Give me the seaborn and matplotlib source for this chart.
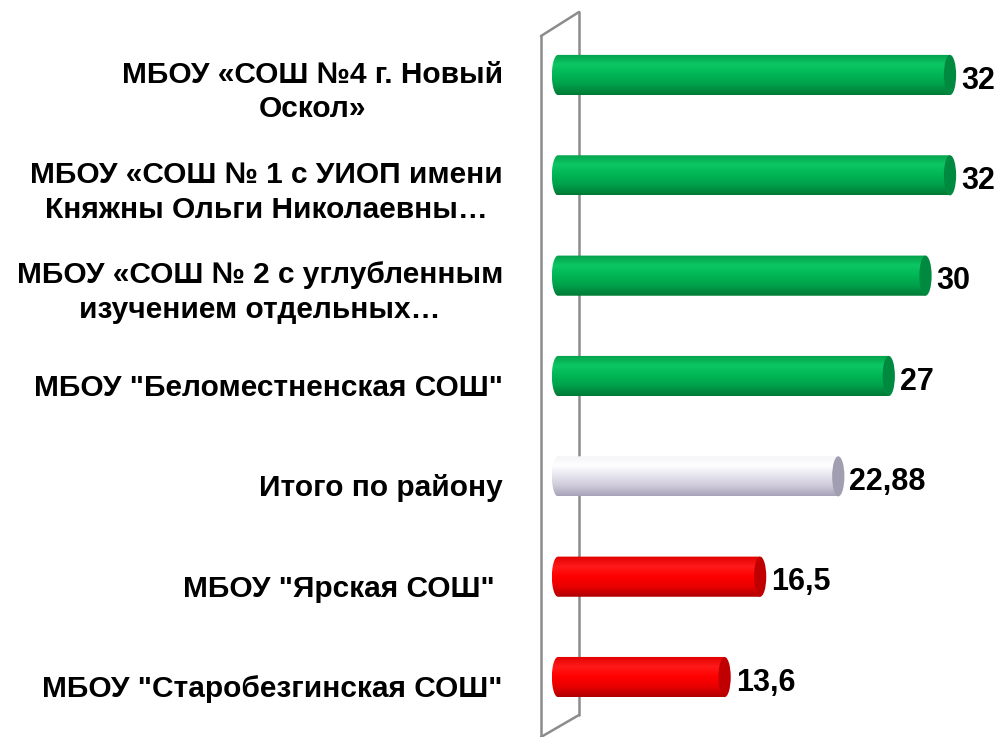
import numpy as np
import pandas as pd
import matplotlib
matplotlib.use("Agg")
import matplotlib.pyplot as plt
import seaborn as sns
from matplotlib.patches import Ellipse, PathPatch
from matplotlib.path import Path
from matplotlib.lines import Line2D
import matplotlib.transforms as mtransforms

categories = [
    "МБОУ «СОШ №4 г. Новый\nОскол»",
    "МБОУ «СОШ № 1 с УИОП имени\nКняжны Ольги Николаевны…",
    "МБОУ «СОШ № 2 с углубленным\nизучением отдельных…",
    "МБОУ \"Беломестненская СОШ\"",
    "Итого по району",
    "МБОУ \"Ярская СОШ\" ",
    "МБОУ \"Старобезгинская СОШ\"",
]
values = [32, 32, 30, 27, 22.88, 16.5, 13.6]
value_labels = ["32", "32", "30", "27", "22,88", "16,5", "13,6"]
groups = ["high", "high", "high", "high", "total", "low", "low"]

palette = {"high": "#00B050", "total": "#E2E0EA", "low": "#FF0000"}
gradients = {
    "high": ["#05A04C", "#0CC763", "#00B655", "#00A04A", "#007A36"],
    "total": ["#F4F4F8", "#FFFFFF", "#E6E4EE", "#CFCBDB", "#A8A3B8"],
    "low": ["#E00000", "#FF1A1A", "#FF0000", "#E80000", "#B00000"],
}
caps = {"high": "#008A40", "total": "#A29EB2", "low": "#C00000"}

sns.set_theme(style="white")
plt.rcParams["font.family"] = ["Liberation Sans", "DejaVu Sans"]

W, H = 1000, 737
fig = plt.figure(figsize=(W / 100, H / 100), dpi=100)
a = 0.5  # half-width of end ellipse in data units
x0_px, px_per_unit = 558, 12.25
left_px = x0_px - a * px_per_unit
top_px, bot_px = 24.8, 727.2
ax = fig.add_axes([left_px / W, 1 - bot_px / H, (W - left_px) / W, (bot_px - top_px) / H])

df = pd.DataFrame({"category": categories, "value": values, "group": groups})
sns.barplot(data=df, x="value", y="category", hue="group", palette=palette,
            dodge=False, width=0.4, orient="h", ax=ax, legend=False)
ax.axis("off")

# 3D back wall
wall_col = "#8C8C8C"
def fline(xs, ys):
    fig.add_artist(Line2D([x / W for x in xs], [1 - y / H for y in ys],
                          color=wall_col, lw=1.8, zorder=0))
fline([541, 541], [36, 737])
fline([579, 579], [12, 715])
fline([541, 579], [36, 12])
fline([579, 541], [715, 737])

bars = sorted(ax.patches, key=lambda p: p.get_y())
for i, p in enumerate(bars):
    g = groups[i]
    v = values[i]
    yc = p.get_y() + p.get_height() / 2
    b = p.get_height() / 2
    p.set_visible(False)
    t = np.linspace(np.pi / 2, 3 * np.pi / 2, 40)
    arc = np.column_stack([a * np.cos(t), yc + b * np.sin(t)])
    verts = np.vstack([[[v, yc - b], [v, yc + b], [0, yc + b]], arc[1:], [[v, yc - b]]])
    codes = [Path.MOVETO] + [Path.LINETO] * (len(verts) - 2) + [Path.CLOSEPOLY]
    body = PathPatch(Path(verts, codes), facecolor="none", edgecolor="none")
    ax.add_patch(body)
    cmap = matplotlib.colors.LinearSegmentedColormap.from_list("g", gradients[g])
    grad = cmap(np.linspace(0, 1, 64))[:, None, :3]
    im = ax.imshow(grad, extent=(-a, v, yc + b, yc - b), origin="upper",
                   aspect="auto", interpolation="bicubic", zorder=2)
    im.set_clip_path(body)
    ax.add_patch(Ellipse((v, yc), 2 * a, 2 * b, facecolor=caps[g],
                         edgecolor="none", zorder=3, clip_on=False))
    ax.annotate(value_labels[i], (v, yc), xytext=(8, -4), textcoords="offset points",
                ha="left", va="center", fontsize=22, fontweight="bold",
                color="black", annotation_clip=False)

ax.set_xlim(-a, -a + (W - left_px) / px_per_unit)
ax.set_ylim(6.5, -0.5)

trans = mtransforms.blended_transform_factory(fig.transFigure, ax.transData)
for i, lbl in enumerate(categories):
    nl = lbl.count("\n") + 1
    off = 12 + 5 * (nl - 1)
    tr = trans + mtransforms.ScaledTranslation(0, -off / 100, fig.dpi_scale_trans)
    fig.text(503 / W, i, lbl, transform=tr, ha="right", va="center",
             multialignment="center", fontsize=21.5, fontweight="bold",
             linespacing=1.3, color="black")

fig.savefig("out.png", dpi=100)
